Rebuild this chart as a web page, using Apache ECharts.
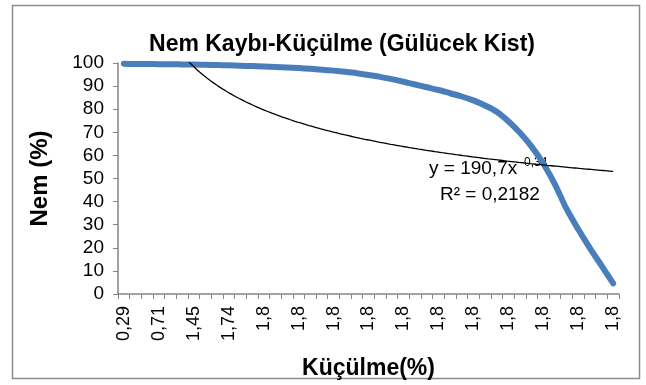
<!DOCTYPE html>
<html>
<head>
<meta charset="utf-8">
<script src="https://cdn.jsdelivr.net/npm/echarts@6/dist/echarts.min.js"></script>
<style>
  html, body { margin: 0; padding: 0; background: #ffffff; }
  #chart { width: 646px; height: 385px; }
</style>
</head>
<body>
<div id="chart"></div>
<script>
// Shrinkage (%) categories along the x axis; only every third one is labelled
const shrinkage = [
  '0,29', '0,43', '0,57', '0,71', '0,96', '1,2', '1,45', '1,55', '1,65', '1,74',
  '1,77', '1,79', '1,8', '1,8', '1,8', '1,8', '1,8', '1,8', '1,8', '1,8',
  '1,8', '1,8', '1,8', '1,8', '1,8', '1,8', '1,8', '1,8', '1,8', '1,8',
  '1,8', '1,8', '1,8', '1,8', '1,8', '1,8', '1,8', '1,8', '1,8', '1,8',
  '1,8', '1,8', '1,8'
];

// Moisture (%) for each category
const moisture = [
  99.7, 99.6, 99.6, 99.5, 99.5, 99.4, 99.3, 99.2, 99.1, 99.0,
  98.8, 98.7, 98.5, 98.3, 98.1, 97.8, 97.5, 97.1, 96.7, 96.2,
  95.6, 94.8, 94.0, 93.0, 91.9, 90.7, 89.5, 88.3, 86.9, 85.5,
  83.8, 81.6, 78.9, 74.8, 69.8, 63.8, 56.5, 47.5, 36.8, 28.0,
  19.9, 12.3, 4.6
];

// Power trendline y = a * x^b (x = point number 1..n), with its R²
const trendA = 190.7;
const trendB = -0.34;
const trendR2 = '0,2182';

const yTicks = [0, 10, 20, 30, 40, 50, 60, 70, 80, 90, 100];

const n = moisture.length;
const trend = [];
for (let x = 1; x <= n + 1e-9; x += 0.1) {
  trend.push([x, trendA * Math.pow(x, trendB)]);
}

const fmt = v => String(v).replace('.', ',');
const font = 'Liberation Sans';
const axisGrey = '#868686';

const chart = echarts.init(document.getElementById('chart'), null, { renderer: 'canvas' });
chart.setOption({
  animation: false,
  backgroundColor: '#ffffff',
  title: {
    text: 'Nem Kaybı-Küçülme (Gülücek Kist)',
    left: 337, top: 28, textAlign: 'center',
    textStyle: { fontFamily: font, fontSize: 23, fontWeight: 'bold', color: '#000' }
  },
  grid: { left: 118, right: 27, top: 63, bottom: 91, containLabel: false },
  xAxis: [{
    type: 'category',
    data: shrinkage,
    boundaryGap: true,
    name: 'Küçülme(%)',
    nameLocation: 'middle',
    nameGap: 63,
    nameTextStyle: { fontFamily: font, fontSize: 23, fontWeight: 'bold', color: '#000' },
    axisLine: { lineStyle: { color: axisGrey, width: 1.5 } },
    axisTick: { show: true, interval: 0, length: 5, lineStyle: { color: axisGrey, width: 1 } },
    axisLabel: {
      interval: 2, rotate: 90, margin: 12,
      fontFamily: font, fontSize: 18, color: '#000'
    },
    splitLine: { show: false }
  }, {
    type: 'value',
    show: false,
    min: 0.5,
    max: n + 0.5
  }],
  yAxis: {
    type: 'value',
    min: yTicks[0], max: yTicks[yTicks.length - 1], interval: 10,
    name: 'Nem (%)',
    nameLocation: 'middle',
    nameGap: 66,
    nameTextStyle: { fontFamily: font, fontSize: 24, fontWeight: 'bold', color: '#000' },
    axisLine: { show: true, lineStyle: { color: axisGrey, width: 1.5 } },
    axisTick: { show: true, length: 5, lineStyle: { color: axisGrey, width: 1 } },
    axisLabel: { margin: 14, fontFamily: font, fontSize: 19, color: '#000' },
    splitLine: { show: false }
  },
  series: [{
    type: 'line',
    name: 'Nem',
    xAxisIndex: 0,
    data: moisture,
    showSymbol: false,
    smooth: 0.3,
    lineStyle: { color: '#4a7ebb', width: 6, cap: 'round', join: 'round' },
    z: 3
  }, {
    type: 'line',
    name: 'Eğilim',
    xAxisIndex: 1,
    data: trend,
    showSymbol: false,
    clip: true,
    lineStyle: { color: '#000000', width: 1.3 },
    z: 4
  }],
  graphic: [{
    type: 'rect',
    shape: { x: 12.5, y: 5.5, width: 627, height: 373 },
    style: { fill: null, stroke: '#8c8c8c', lineWidth: 1.5 },
    silent: true, z: 0
  }, {
    type: 'text',
    left: 429, top: 159,
    style: { text: 'y = ' + fmt(trendA) + 'x', font: '19px "' + font + '"', fill: '#000' },
    z: 1
  }, {
    type: 'text',
    left: 520, top: 157,
    style: { text: fmt(trendB), font: '12px "' + font + '"', fill: '#000' },
    z: 1
  }, {
    type: 'text',
    left: 440, top: 185,
    style: { text: 'R² = ' + trendR2, font: '19px "' + font + '"', fill: '#000' },
    z: 1
  }]
});
</script>
</body>
</html>
